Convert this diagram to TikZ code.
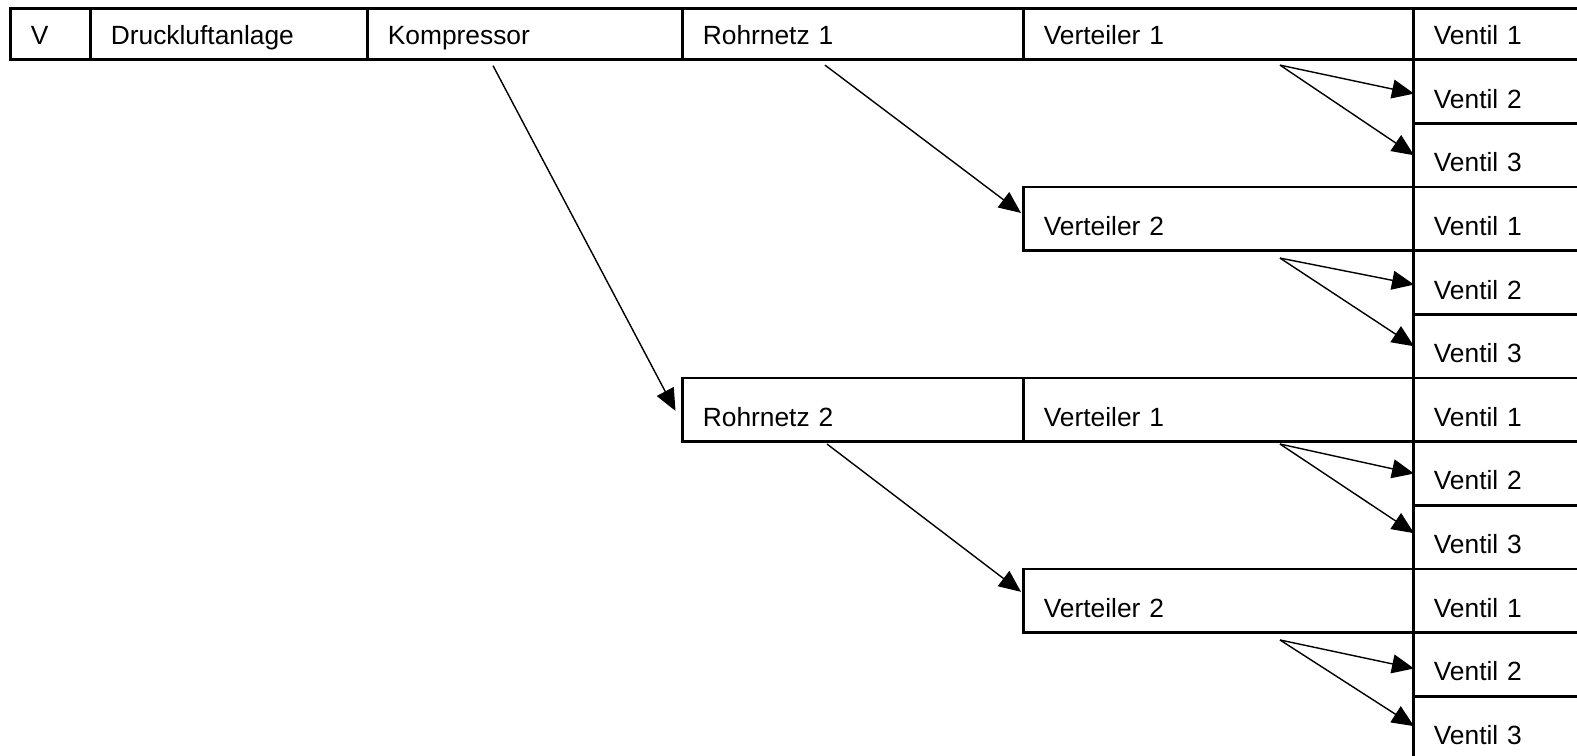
\documentclass[tikz,border=0pt]{standalone}
\usepackage{fontspec}
\setmainfont{Liberation Sans}
\usetikzlibrary{arrows.meta}

\tikzset{
  cell/.style={draw,line width=1.5pt,rectangle,anchor=north west,
    inner xsep=0.41cm,inner ysep=0pt,align=left,text width=#1,
    text height=0.965cm,text depth=0.308cm},
  toprow/.style={text height=0.716cm},
  link/.style={line width=0.8pt,-{Triangle[length=0.44cm,width=0.38cm]}}
}

\begin{document}
\begin{tikzpicture}[x=0.02cm,y=-0.02cm,font=\fontsize{15}{18}\selectfont]
\useasboundingbox (0,0) rectangle (1577,755);
\clip (0,0) rectangle (1577,755);

\begin{scope}
  % first line
  \node[cell=0.78cm,toprow] (lbl) at (9,7.3) {V};
  \node[cell=4.72cm,toprow] (anl) at (89,7.3) {Druckluftanlage};
  \node[cell=5.48cm,toprow] (kom) at (366,7.3) {Kompressor};
  \node[cell=6.0cm,toprow] (rn1) at (681,7.3) {Rohrnetz 1};
  \node[cell=6.98cm,toprow] (vt11) at (1022,7.3) {Verteiler 1};
  \node[cell=2.94cm,toprow] (v111) at (1412,7.3) {Ventil 1};
  \node[cell=2.94cm] (v112) at (1412,58.5) {Ventil 2};
  \node[cell=2.94cm] (v113) at (1412,122.15) {Ventil 3};
  % Rohrnetz 1, Verteiler 2
  \node[cell=6.98cm] (vt12) at (1022,185.8) {Verteiler 2};
  \node[cell=2.94cm] (v121) at (1412,185.8) {Ventil 1};
  \node[cell=2.94cm] (v122) at (1412,249.45) {Ventil 2};
  \node[cell=2.94cm] (v123) at (1412,313.1) {Ventil 3};
  % Rohrnetz 2
  \node[cell=6.0cm] (rn2) at (681,376.75) {Rohrnetz 2};
  \node[cell=6.98cm] (vt21) at (1022,376.75) {Verteiler 1};
  \node[cell=2.94cm] (v211) at (1412,376.75) {Ventil 1};
  \node[cell=2.94cm] (v212) at (1412,440.4) {Ventil 2};
  \node[cell=2.94cm] (v213) at (1412,504.05) {Ventil 3};
  \node[cell=6.98cm] (vt22) at (1022,567.7) {Verteiler 2};
  \node[cell=2.94cm] (v221) at (1412,567.7) {Ventil 1};
  \node[cell=2.94cm] (v222) at (1412,631.35) {Ventil 2};
  \node[cell=2.94cm] (v223) at (1412,695) {Ventil 3};
\end{scope}

\begin{scope}[every edge/.style={draw,link}]
  \path ([shift={(127,4.5)}]kom.south west) edge ([shift={(-5.5,1)}]rn2.west);
  \path ([shift={(144,4)}]rn1.south west) edge ([shift={(-1,-6)}]vt12.west);
  \path ([shift={(146,1)}]rn2.south west) edge ([shift={(-1,-9)}]vt22.west);
  \path ([shift={(258,4)}]vt11.south west) edge ([shift={(2,2)}]v112.west);
  \path ([shift={(258,4)}]vt11.south west) edge ([shift={(2,0)}]v113.west);
  \path ([shift={(258,6)}]vt12.south west) edge ([shift={(2,2)}]v122.west);
  \path ([shift={(258,6)}]vt12.south west) edge ([shift={(2,0)}]v123.west);
  \path ([shift={(258,1)}]vt21.south west) edge ([shift={(2,0)}]v212.west);
  \path ([shift={(258,1)}]vt21.south west) edge ([shift={(2,-4)}]v213.west);
  \path ([shift={(258,6)}]vt22.south west) edge ([shift={(2,4)}]v222.west);
  \path ([shift={(258,6)}]vt22.south west) edge ([shift={(2,-2)}]v223.west);
\end{scope}
\end{tikzpicture}
\end{document}
